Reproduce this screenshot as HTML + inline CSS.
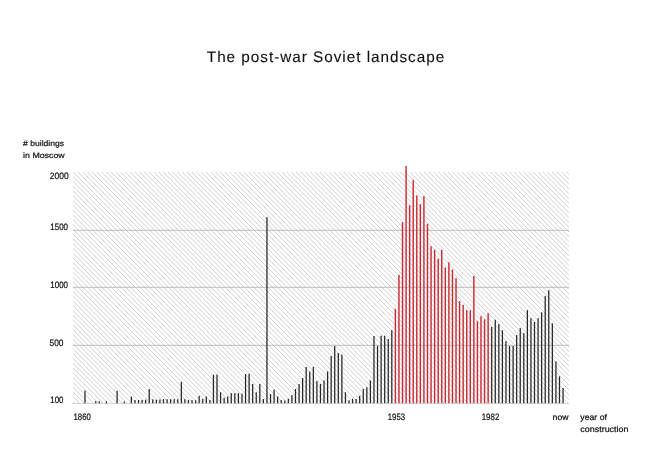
<!DOCTYPE html>
<html><head><meta charset="utf-8"><title>The post-war Soviet landscape</title>
<style>
html,body{margin:0;padding:0;background:#fff;}
body{width:650px;height:458px;overflow:hidden;}
svg{display:block;will-change:transform;}
text{font-family:"Liberation Sans",sans-serif;text-rendering:geometricPrecision;fill:#111;stroke:#111;stroke-width:0.22px;}
</style></head><body>
<svg width="650" height="458" viewBox="0 0 650 458">
<defs><clipPath id="hc"><rect x="73" y="172" width="496" height="231"/></clipPath></defs>
<g clip-path="url(#hc)" stroke="#c4c4c4" stroke-width="0.8">
<line x1="-179.33" y1="166" x2="61.43" y2="409"/>
<line x1="-174.59" y1="166" x2="66.17" y2="409"/>
<line x1="-169.84" y1="166" x2="70.92" y2="409"/>
<line x1="-165.1" y1="166" x2="75.66" y2="409"/>
<line x1="-160.36" y1="166" x2="80.4" y2="409"/>
<line x1="-155.62" y1="166" x2="85.14" y2="409"/>
<line x1="-150.88" y1="166" x2="89.88" y2="409"/>
<line x1="-146.13" y1="166" x2="94.63" y2="409"/>
<line x1="-141.39" y1="166" x2="99.37" y2="409"/>
<line x1="-136.65" y1="166" x2="104.11" y2="409"/>
<line x1="-131.91" y1="166" x2="108.85" y2="409"/>
<line x1="-127.17" y1="166" x2="113.59" y2="409"/>
<line x1="-122.42" y1="166" x2="118.34" y2="409"/>
<line x1="-117.68" y1="166" x2="123.08" y2="409"/>
<line x1="-112.94" y1="166" x2="127.82" y2="409"/>
<line x1="-108.2" y1="166" x2="132.56" y2="409"/>
<line x1="-103.46" y1="166" x2="137.3" y2="409"/>
<line x1="-98.71" y1="166" x2="142.05" y2="409"/>
<line x1="-93.97" y1="166" x2="146.79" y2="409"/>
<line x1="-89.23" y1="166" x2="151.53" y2="409"/>
<line x1="-84.49" y1="166" x2="156.27" y2="409"/>
<line x1="-79.75" y1="166" x2="161.01" y2="409"/>
<line x1="-75" y1="166" x2="165.76" y2="409"/>
<line x1="-70.26" y1="166" x2="170.5" y2="409"/>
<line x1="-65.52" y1="166" x2="175.24" y2="409"/>
<line x1="-60.78" y1="166" x2="179.98" y2="409"/>
<line x1="-56.04" y1="166" x2="184.72" y2="409"/>
<line x1="-51.29" y1="166" x2="189.47" y2="409"/>
<line x1="-46.55" y1="166" x2="194.21" y2="409"/>
<line x1="-41.81" y1="166" x2="198.95" y2="409"/>
<line x1="-37.07" y1="166" x2="203.69" y2="409"/>
<line x1="-32.33" y1="166" x2="208.43" y2="409"/>
<line x1="-27.58" y1="166" x2="213.18" y2="409"/>
<line x1="-22.84" y1="166" x2="217.92" y2="409"/>
<line x1="-18.1" y1="166" x2="222.66" y2="409"/>
<line x1="-13.36" y1="166" x2="227.4" y2="409"/>
<line x1="-8.62" y1="166" x2="232.14" y2="409"/>
<line x1="-3.87" y1="166" x2="236.89" y2="409"/>
<line x1="0.87" y1="166" x2="241.63" y2="409"/>
<line x1="5.61" y1="166" x2="246.37" y2="409"/>
<line x1="10.35" y1="166" x2="251.11" y2="409"/>
<line x1="15.09" y1="166" x2="255.85" y2="409"/>
<line x1="19.84" y1="166" x2="260.6" y2="409"/>
<line x1="24.58" y1="166" x2="265.34" y2="409"/>
<line x1="29.32" y1="166" x2="270.08" y2="409"/>
<line x1="34.06" y1="166" x2="274.82" y2="409"/>
<line x1="38.8" y1="166" x2="279.56" y2="409"/>
<line x1="43.55" y1="166" x2="284.31" y2="409"/>
<line x1="48.29" y1="166" x2="289.05" y2="409"/>
<line x1="53.03" y1="166" x2="293.79" y2="409"/>
<line x1="57.77" y1="166" x2="298.53" y2="409"/>
<line x1="62.51" y1="166" x2="303.27" y2="409"/>
<line x1="67.26" y1="166" x2="308.02" y2="409"/>
<line x1="72" y1="166" x2="312.76" y2="409"/>
<line x1="76.74" y1="166" x2="317.5" y2="409"/>
<line x1="81.48" y1="166" x2="322.24" y2="409"/>
<line x1="86.22" y1="166" x2="326.98" y2="409"/>
<line x1="90.97" y1="166" x2="331.73" y2="409"/>
<line x1="95.71" y1="166" x2="336.47" y2="409"/>
<line x1="100.45" y1="166" x2="341.21" y2="409"/>
<line x1="105.19" y1="166" x2="345.95" y2="409"/>
<line x1="109.93" y1="166" x2="350.69" y2="409"/>
<line x1="114.68" y1="166" x2="355.44" y2="409"/>
<line x1="119.42" y1="166" x2="360.18" y2="409"/>
<line x1="124.16" y1="166" x2="364.92" y2="409"/>
<line x1="128.9" y1="166" x2="369.66" y2="409"/>
<line x1="133.64" y1="166" x2="374.4" y2="409"/>
<line x1="138.39" y1="166" x2="379.15" y2="409"/>
<line x1="143.13" y1="166" x2="383.89" y2="409"/>
<line x1="147.87" y1="166" x2="388.63" y2="409"/>
<line x1="152.61" y1="166" x2="393.37" y2="409"/>
<line x1="157.35" y1="166" x2="398.11" y2="409"/>
<line x1="162.1" y1="166" x2="402.86" y2="409"/>
<line x1="166.84" y1="166" x2="407.6" y2="409"/>
<line x1="171.58" y1="166" x2="412.34" y2="409"/>
<line x1="176.32" y1="166" x2="417.08" y2="409"/>
<line x1="181.06" y1="166" x2="421.82" y2="409"/>
<line x1="185.81" y1="166" x2="426.57" y2="409"/>
<line x1="190.55" y1="166" x2="431.31" y2="409"/>
<line x1="195.29" y1="166" x2="436.05" y2="409"/>
<line x1="200.03" y1="166" x2="440.79" y2="409"/>
<line x1="204.77" y1="166" x2="445.53" y2="409"/>
<line x1="209.52" y1="166" x2="450.28" y2="409"/>
<line x1="214.26" y1="166" x2="455.02" y2="409"/>
<line x1="219" y1="166" x2="459.76" y2="409"/>
<line x1="223.74" y1="166" x2="464.5" y2="409"/>
<line x1="228.48" y1="166" x2="469.24" y2="409"/>
<line x1="233.23" y1="166" x2="473.99" y2="409"/>
<line x1="237.97" y1="166" x2="478.73" y2="409"/>
<line x1="242.71" y1="166" x2="483.47" y2="409"/>
<line x1="247.45" y1="166" x2="488.21" y2="409"/>
<line x1="252.19" y1="166" x2="492.95" y2="409"/>
<line x1="256.94" y1="166" x2="497.7" y2="409"/>
<line x1="261.68" y1="166" x2="502.44" y2="409"/>
<line x1="266.42" y1="166" x2="507.18" y2="409"/>
<line x1="271.16" y1="166" x2="511.92" y2="409"/>
<line x1="275.9" y1="166" x2="516.66" y2="409"/>
<line x1="280.65" y1="166" x2="521.41" y2="409"/>
<line x1="285.39" y1="166" x2="526.15" y2="409"/>
<line x1="290.13" y1="166" x2="530.89" y2="409"/>
<line x1="294.87" y1="166" x2="535.63" y2="409"/>
<line x1="299.61" y1="166" x2="540.37" y2="409"/>
<line x1="304.36" y1="166" x2="545.12" y2="409"/>
<line x1="309.1" y1="166" x2="549.86" y2="409"/>
<line x1="313.84" y1="166" x2="554.6" y2="409"/>
<line x1="318.58" y1="166" x2="559.34" y2="409"/>
<line x1="323.32" y1="166" x2="564.08" y2="409"/>
<line x1="328.07" y1="166" x2="568.83" y2="409"/>
<line x1="332.81" y1="166" x2="573.57" y2="409"/>
<line x1="337.55" y1="166" x2="578.31" y2="409"/>
<line x1="342.29" y1="166" x2="583.05" y2="409"/>
<line x1="347.03" y1="166" x2="587.79" y2="409"/>
<line x1="351.78" y1="166" x2="592.54" y2="409"/>
<line x1="356.52" y1="166" x2="597.28" y2="409"/>
<line x1="361.26" y1="166" x2="602.02" y2="409"/>
<line x1="366" y1="166" x2="606.76" y2="409"/>
<line x1="370.74" y1="166" x2="611.5" y2="409"/>
<line x1="375.49" y1="166" x2="616.25" y2="409"/>
<line x1="380.23" y1="166" x2="620.99" y2="409"/>
<line x1="384.97" y1="166" x2="625.73" y2="409"/>
<line x1="389.71" y1="166" x2="630.47" y2="409"/>
<line x1="394.45" y1="166" x2="635.21" y2="409"/>
<line x1="399.2" y1="166" x2="639.96" y2="409"/>
<line x1="403.94" y1="166" x2="644.7" y2="409"/>
<line x1="408.68" y1="166" x2="649.44" y2="409"/>
<line x1="413.42" y1="166" x2="654.18" y2="409"/>
<line x1="418.16" y1="166" x2="658.92" y2="409"/>
<line x1="422.91" y1="166" x2="663.67" y2="409"/>
<line x1="427.65" y1="166" x2="668.41" y2="409"/>
<line x1="432.39" y1="166" x2="673.15" y2="409"/>
<line x1="437.13" y1="166" x2="677.89" y2="409"/>
<line x1="441.87" y1="166" x2="682.63" y2="409"/>
<line x1="446.62" y1="166" x2="687.38" y2="409"/>
<line x1="451.36" y1="166" x2="692.12" y2="409"/>
<line x1="456.1" y1="166" x2="696.86" y2="409"/>
<line x1="460.84" y1="166" x2="701.6" y2="409"/>
<line x1="465.58" y1="166" x2="706.34" y2="409"/>
<line x1="470.33" y1="166" x2="711.09" y2="409"/>
<line x1="475.07" y1="166" x2="715.83" y2="409"/>
<line x1="479.81" y1="166" x2="720.57" y2="409"/>
<line x1="484.55" y1="166" x2="725.31" y2="409"/>
<line x1="489.29" y1="166" x2="730.05" y2="409"/>
<line x1="494.04" y1="166" x2="734.8" y2="409"/>
<line x1="498.78" y1="166" x2="739.54" y2="409"/>
<line x1="503.52" y1="166" x2="744.28" y2="409"/>
<line x1="508.26" y1="166" x2="749.02" y2="409"/>
<line x1="513" y1="166" x2="753.76" y2="409"/>
<line x1="517.75" y1="166" x2="758.51" y2="409"/>
<line x1="522.49" y1="166" x2="763.25" y2="409"/>
<line x1="527.23" y1="166" x2="767.99" y2="409"/>
<line x1="531.97" y1="166" x2="772.73" y2="409"/>
<line x1="536.71" y1="166" x2="777.47" y2="409"/>
<line x1="541.46" y1="166" x2="782.22" y2="409"/>
<line x1="546.2" y1="166" x2="786.96" y2="409"/>
<line x1="550.94" y1="166" x2="791.7" y2="409"/>
<line x1="555.68" y1="166" x2="796.44" y2="409"/>
<line x1="560.42" y1="166" x2="801.18" y2="409"/>
<line x1="565.17" y1="166" x2="805.93" y2="409"/>
<line x1="569.91" y1="166" x2="810.67" y2="409"/>
</g>
<rect x="73" y="229.8" width="496" height="1" fill="#bcbcbc"/>
<rect x="73" y="286.8" width="496" height="1" fill="#bcbcbc"/>
<rect x="73" y="344.8" width="496" height="1" fill="#bcbcbc"/>
<rect x="72" y="403" width="497" height="0.8" fill="#c8c8c8"/>
<rect x="84.38" y="390.6" width="1.25" height="12.6" fill="#262626"/>
<rect x="95.08" y="401.2" width="1.25" height="2" fill="#262626"/>
<rect x="98.65" y="401.2" width="1.25" height="2" fill="#262626"/>
<rect x="105.78" y="401.2" width="1.25" height="2" fill="#262626"/>
<rect x="116.48" y="390.8" width="1.25" height="12.4" fill="#262626"/>
<rect x="123.62" y="401.5" width="1.25" height="1.7" fill="#262626"/>
<rect x="130.75" y="396.6" width="1.25" height="6.6" fill="#262626"/>
<rect x="134.32" y="400" width="1.25" height="3.2" fill="#262626"/>
<rect x="137.89" y="400" width="1.25" height="3.2" fill="#262626"/>
<rect x="141.46" y="400" width="1.25" height="3.2" fill="#262626"/>
<rect x="145.02" y="399.6" width="1.25" height="3.6" fill="#262626"/>
<rect x="148.59" y="389" width="1.25" height="14.2" fill="#262626"/>
<rect x="152.16" y="399.3" width="1.25" height="3.9" fill="#262626"/>
<rect x="155.73" y="399.7" width="1.25" height="3.5" fill="#262626"/>
<rect x="159.3" y="399.5" width="1.25" height="3.7" fill="#262626"/>
<rect x="162.86" y="399.1" width="1.25" height="4.1" fill="#262626"/>
<rect x="166.43" y="399.2" width="1.25" height="4" fill="#262626"/>
<rect x="170" y="399.2" width="1.25" height="4" fill="#262626"/>
<rect x="173.56" y="399.2" width="1.25" height="4" fill="#262626"/>
<rect x="177.13" y="399.2" width="1.25" height="4" fill="#262626"/>
<rect x="180.7" y="381.9" width="1.25" height="21.3" fill="#262626"/>
<rect x="184.27" y="399.2" width="1.25" height="4" fill="#262626"/>
<rect x="187.83" y="400" width="1.25" height="3.2" fill="#262626"/>
<rect x="191.4" y="400.1" width="1.25" height="3.1" fill="#262626"/>
<rect x="194.97" y="400.3" width="1.25" height="2.9" fill="#262626"/>
<rect x="198.54" y="395.9" width="1.25" height="7.3" fill="#262626"/>
<rect x="202.11" y="399" width="1.25" height="4.2" fill="#262626"/>
<rect x="205.67" y="396.4" width="1.25" height="6.8" fill="#262626"/>
<rect x="209.24" y="399.9" width="1.25" height="3.3" fill="#262626"/>
<rect x="212.81" y="374.7" width="1.25" height="28.5" fill="#262626"/>
<rect x="216.38" y="374.7" width="1.25" height="28.5" fill="#262626"/>
<rect x="219.94" y="392.2" width="1.25" height="11" fill="#262626"/>
<rect x="223.51" y="397.8" width="1.25" height="5.4" fill="#262626"/>
<rect x="227.08" y="396.4" width="1.25" height="6.8" fill="#262626"/>
<rect x="230.64" y="393.2" width="1.25" height="10" fill="#262626"/>
<rect x="234.21" y="393.2" width="1.25" height="10" fill="#262626"/>
<rect x="237.78" y="393.2" width="1.25" height="10" fill="#262626"/>
<rect x="241.35" y="393.6" width="1.25" height="9.6" fill="#262626"/>
<rect x="244.92" y="374" width="1.25" height="29.2" fill="#262626"/>
<rect x="248.48" y="373.8" width="1.25" height="29.4" fill="#262626"/>
<rect x="252.05" y="383.9" width="1.25" height="19.3" fill="#262626"/>
<rect x="255.62" y="392.2" width="1.25" height="11" fill="#262626"/>
<rect x="259.19" y="383.9" width="1.25" height="19.3" fill="#262626"/>
<rect x="262.75" y="399" width="1.25" height="4.2" fill="#262626"/>
<rect x="266.32" y="217.1" width="1.25" height="186.1" fill="#262626"/>
<rect x="269.89" y="394.1" width="1.25" height="9.1" fill="#262626"/>
<rect x="273.45" y="389.7" width="1.25" height="13.5" fill="#262626"/>
<rect x="277.02" y="396.4" width="1.25" height="6.8" fill="#262626"/>
<rect x="280.59" y="399.9" width="1.25" height="3.3" fill="#262626"/>
<rect x="284.16" y="400.5" width="1.25" height="2.7" fill="#262626"/>
<rect x="287.72" y="398.7" width="1.25" height="4.5" fill="#262626"/>
<rect x="291.29" y="395" width="1.25" height="8.2" fill="#262626"/>
<rect x="294.86" y="389" width="1.25" height="14.2" fill="#262626"/>
<rect x="298.43" y="384" width="1.25" height="19.2" fill="#262626"/>
<rect x="302" y="378" width="1.25" height="25.2" fill="#262626"/>
<rect x="305.56" y="367" width="1.25" height="36.2" fill="#262626"/>
<rect x="309.13" y="371.5" width="1.25" height="31.7" fill="#262626"/>
<rect x="312.7" y="367" width="1.25" height="36.2" fill="#262626"/>
<rect x="316.26" y="381.1" width="1.25" height="22.1" fill="#262626"/>
<rect x="319.83" y="384" width="1.25" height="19.2" fill="#262626"/>
<rect x="323.4" y="380.4" width="1.25" height="22.8" fill="#262626"/>
<rect x="326.97" y="371.5" width="1.25" height="31.7" fill="#262626"/>
<rect x="330.54" y="356" width="1.25" height="47.2" fill="#262626"/>
<rect x="334.1" y="346" width="1.25" height="57.2" fill="#262626"/>
<rect x="337.67" y="353" width="1.25" height="50.2" fill="#262626"/>
<rect x="341.24" y="354.6" width="1.25" height="48.6" fill="#262626"/>
<rect x="344.81" y="392.2" width="1.25" height="11" fill="#262626"/>
<rect x="348.37" y="400.3" width="1.25" height="2.9" fill="#262626"/>
<rect x="351.94" y="398.7" width="1.25" height="4.5" fill="#262626"/>
<rect x="355.51" y="399" width="1.25" height="4.2" fill="#262626"/>
<rect x="359.07" y="395.8" width="1.25" height="7.4" fill="#262626"/>
<rect x="362.64" y="389.1" width="1.25" height="14.1" fill="#262626"/>
<rect x="366.21" y="387.3" width="1.25" height="15.9" fill="#262626"/>
<rect x="369.78" y="380.4" width="1.25" height="22.8" fill="#262626"/>
<rect x="373.35" y="336" width="1.25" height="67.2" fill="#262626"/>
<rect x="376.91" y="345.9" width="1.25" height="57.3" fill="#262626"/>
<rect x="380.48" y="335.7" width="1.25" height="67.5" fill="#262626"/>
<rect x="384.05" y="335.7" width="1.25" height="67.5" fill="#262626"/>
<rect x="387.62" y="339" width="1.25" height="64.2" fill="#262626"/>
<rect x="391.18" y="330.1" width="1.25" height="73.1" fill="#262626"/>
<rect x="394.68" y="308.8" width="1.4" height="94.4" fill="#cb2833"/>
<rect x="398.24" y="275" width="1.4" height="128.2" fill="#cb2833"/>
<rect x="401.81" y="222.1" width="1.4" height="181.1" fill="#cb2833"/>
<rect x="405.38" y="165.9" width="1.4" height="237.3" fill="#cb2833"/>
<rect x="408.94" y="205.2" width="1.4" height="198" fill="#cb2833"/>
<rect x="412.51" y="180.1" width="1.4" height="223.1" fill="#cb2833"/>
<rect x="416.08" y="195.4" width="1.4" height="207.8" fill="#cb2833"/>
<rect x="419.65" y="204.1" width="1.4" height="199.1" fill="#cb2833"/>
<rect x="423.22" y="196.2" width="1.4" height="207" fill="#cb2833"/>
<rect x="426.78" y="223.8" width="1.4" height="179.4" fill="#cb2833"/>
<rect x="430.35" y="246.2" width="1.4" height="157" fill="#cb2833"/>
<rect x="433.92" y="249.8" width="1.4" height="153.4" fill="#cb2833"/>
<rect x="437.49" y="258.8" width="1.4" height="144.4" fill="#cb2833"/>
<rect x="441.05" y="249.8" width="1.4" height="153.4" fill="#cb2833"/>
<rect x="444.62" y="267.5" width="1.4" height="135.7" fill="#cb2833"/>
<rect x="448.19" y="262.2" width="1.4" height="141" fill="#cb2833"/>
<rect x="451.75" y="269.5" width="1.4" height="133.7" fill="#cb2833"/>
<rect x="455.32" y="278.2" width="1.4" height="125" fill="#cb2833"/>
<rect x="458.89" y="301.1" width="1.4" height="102.1" fill="#cb2833"/>
<rect x="462.46" y="304.9" width="1.4" height="98.3" fill="#cb2833"/>
<rect x="466.03" y="310.2" width="1.4" height="93" fill="#cb2833"/>
<rect x="469.59" y="310.3" width="1.4" height="92.9" fill="#cb2833"/>
<rect x="473.16" y="276" width="1.4" height="127.2" fill="#cb2833"/>
<rect x="476.73" y="321.2" width="1.4" height="82" fill="#cb2833"/>
<rect x="480.3" y="316.2" width="1.4" height="87" fill="#cb2833"/>
<rect x="483.86" y="319.3" width="1.4" height="83.9" fill="#cb2833"/>
<rect x="487.43" y="313.2" width="1.4" height="90" fill="#cb2833"/>
<rect x="491.07" y="327" width="1.25" height="76.2" fill="#262626"/>
<rect x="494.64" y="319.7" width="1.25" height="83.5" fill="#262626"/>
<rect x="498.21" y="324.1" width="1.25" height="79.1" fill="#262626"/>
<rect x="501.77" y="330.2" width="1.25" height="73" fill="#262626"/>
<rect x="505.34" y="341.1" width="1.25" height="62.1" fill="#262626"/>
<rect x="508.91" y="346" width="1.25" height="57.2" fill="#262626"/>
<rect x="512.48" y="346" width="1.25" height="57.2" fill="#262626"/>
<rect x="516.04" y="335.1" width="1.25" height="68.1" fill="#262626"/>
<rect x="519.61" y="328.1" width="1.25" height="75.1" fill="#262626"/>
<rect x="523.18" y="333.1" width="1.25" height="70.1" fill="#262626"/>
<rect x="526.75" y="310.2" width="1.25" height="93" fill="#262626"/>
<rect x="530.31" y="318.1" width="1.25" height="85.1" fill="#262626"/>
<rect x="533.88" y="322" width="1.25" height="81.2" fill="#262626"/>
<rect x="537.45" y="318.2" width="1.25" height="85" fill="#262626"/>
<rect x="541.02" y="312.3" width="1.25" height="90.9" fill="#262626"/>
<rect x="544.58" y="295.9" width="1.25" height="107.3" fill="#262626"/>
<rect x="548.15" y="290.3" width="1.25" height="112.9" fill="#262626"/>
<rect x="551.72" y="323.3" width="1.25" height="79.9" fill="#262626"/>
<rect x="555.29" y="361.3" width="1.25" height="41.9" fill="#262626"/>
<rect x="558.86" y="376.3" width="1.25" height="26.9" fill="#262626"/>
<rect x="562.42" y="387.9" width="1.25" height="15.3" fill="#262626"/>
<text x="206.8" y="61.7" font-size="15.3" textLength="237.4" lengthAdjust="spacing" style="stroke-width:0.12px">The post-war Soviet landscape</text>
<text x="23.1" y="146.3" font-size="7.8" textLength="40.9" lengthAdjust="spacingAndGlyphs"># buildings</text>
<text x="23.1" y="157.8" font-size="7.8" textLength="41.6" lengthAdjust="spacingAndGlyphs">in Moscow</text>
<text x="49.8" y="178.8" font-size="9.3" textLength="18.8" lengthAdjust="spacingAndGlyphs">2000</text>
<text x="50.3" y="229.8" font-size="9.3" textLength="17.7" lengthAdjust="spacingAndGlyphs">1500</text>
<text x="50.3" y="287.5" font-size="9.3" textLength="17.7" lengthAdjust="spacingAndGlyphs">1000</text>
<text x="49.5" y="345.8" font-size="9.3" textLength="13.9" lengthAdjust="spacingAndGlyphs">500</text>
<text x="50.3" y="402.9" font-size="9.3" textLength="13.1" lengthAdjust="spacingAndGlyphs">100</text>
<text x="73.5" y="420.4" font-size="9.3" textLength="17.3" lengthAdjust="spacingAndGlyphs">1860</text>
<text x="387.8" y="420.4" font-size="9.3" textLength="17.3" lengthAdjust="spacingAndGlyphs">1953</text>
<text x="481.7" y="420.4" font-size="9.3" textLength="17.6" lengthAdjust="spacingAndGlyphs">1982</text>
<text x="552.6" y="420.4" font-size="8.3" textLength="15.9" lengthAdjust="spacingAndGlyphs">now</text>
<text x="580.3" y="420.4" font-size="8.3" textLength="26.6" lengthAdjust="spacingAndGlyphs">year of</text>
<text x="580.3" y="431.5" font-size="8.3" textLength="48.2" lengthAdjust="spacingAndGlyphs">construction</text>
</svg>
</body></html>
